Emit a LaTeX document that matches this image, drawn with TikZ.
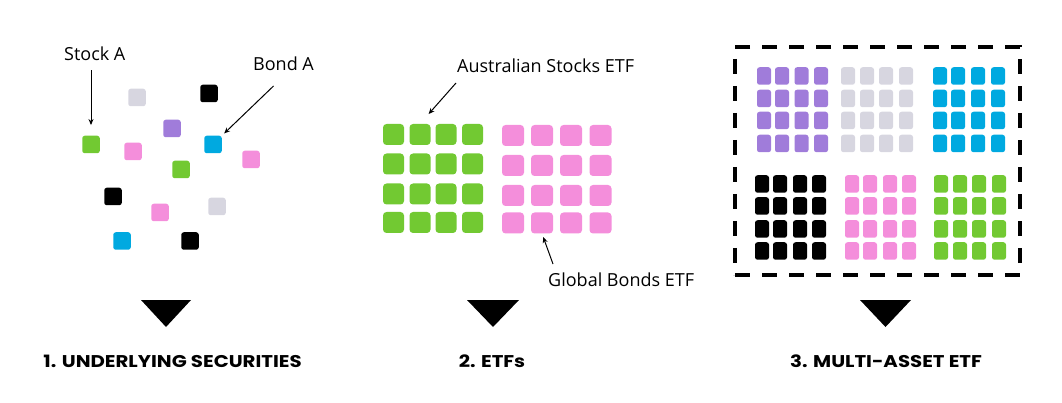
\documentclass[tikz,border=0pt]{standalone}
\usepackage{fontspec}
\setmainfont{Open Sans}
\newfontfamily\labfont{Poppins}[FakeStretch=1.16]
\usetikzlibrary{arrows.meta,calc}
\definecolor{cgreen}{HTML}{72C932}
\definecolor{cpink}{HTML}{F48EDB}
\definecolor{cpurple}{HTML}{A07CDA}
\definecolor{cgray}{HTML}{D7D6E0}
\definecolor{cblue}{HTML}{00A9E0}
\tikzset{
  chip/.style={draw=none, rounded corners=2.5pt, inner sep=0pt, minimum width=17.5pt, minimum height=17.5pt},
  bigchip/.style={draw=none, rounded corners=3.5pt, inner sep=0pt, minimum width=21pt, minimum height=21pt},
  smallchip/.style={draw=none, rounded corners=2.5pt, inner sep=0pt, minimum width=14pt, minimum height=17.5pt},
  lbl/.style={inner sep=0pt, font=\fontsize{18}{21}\selectfont},
  title/.style={inner sep=0pt, font=\labfont\bfseries\fontsize{17}{20}\selectfont},
  arr/.style={line width=1pt, -{Stealth[length=6pt,width=5pt]}},
  tri/.style={fill=black},
  mabox/.style={draw=black, line width=3.3pt, dash pattern=on 15pt off 12pt, inner sep=0pt, minimum width=285pt, minimum height=228pt}
}
\begin{document}
\begin{tikzpicture}[x=1pt,y=-1pt]
\useasboundingbox (0,0) rectangle (1062,403);
% ---------- 1. underlying securities
\node[chip,fill=cgray]   (u1)  at (137,97.5) {};
\node[chip,fill=black]   (u2)  at (209,93.5) {};
\node[chip,fill=cpurple] (u3)  at (172,128.5) {};
\node[chip,fill=cgreen]  (sA)  at (91,144.5) {};
\node[chip,fill=cpink]   (u5)  at (133,151.5) {};
\node[chip,fill=cblue]   (bA)  at (213,144.5) {};
\node[chip,fill=cpink]   (u7)  at (251,159.5) {};
\node[chip,fill=cgreen]  (u8)  at (181,169.5) {};
\node[chip,fill=black]   (u9)  at (113,196.5) {};
\node[chip,fill=cpink]   (u10) at (160,212.5) {};
\node[chip,fill=cgray]   (u11) at (217,206.5) {};
\node[chip,fill=cblue]   (u12) at (122,241) {};
\node[chip,fill=black]   (u13) at (190,241) {};
\node[lbl,anchor=base west] (stockA) at (64,61) {Stock A};
\node[lbl,anchor=base west] (bondA) at (253,71) {Bond A};
\draw[arr,shorten <=9pt,shorten >=10.5pt] (stockA.south -| sA.north) -- (sA.north);
\draw[arr,shorten >=3pt] ($(bondA.base)+(-10,15)$) -- (bA.north east);
\fill[tri] (141,300) -- (191,300) -- (166,327) -- cycle;
\node[title,anchor=base] (t1) at (172.5,367) {1. UNDERLYING SECURITIES};
% ---------- 2. ETFs
\foreach \c/\x in {1/393.5,2/420,3/446,4/472.5}
  \foreach \r/\y in {1/134.5,2/164,3/194,4/222.5}
    \node[bigchip,fill=cgreen] (g\r\c) at (\x,\y) {};
\foreach \c/\x in {1/513,2/542,3/571,4/600.5}
  \foreach \r/\y in {1/135.5,2/165.5,3/195.5,4/223}
    \node[bigchip,minimum width=22pt,fill=cpink] (p\r\c) at (\x,\y) {};
\node[lbl,anchor=base west] (aus) at (457,73) {Australian Stocks ETF};
\node[lbl,anchor=base west] (glob) at (548,287) {Global Bonds ETF};
\draw[arr,shorten >=13pt] ($(aus.base west)+(-1,10)$) -- (g12.north);
\draw[arr,shorten >=3.5pt] ($(glob.base west)+(5,-23)$) -- (p42.south);
\fill[tri] (467,300) -- (519,300) -- (493,327) -- cycle;
\node[title,anchor=base] (t2) at (492,367) {2. ETFs};
% ---------- 3. Multi-asset ETF
\node[mabox] (box) at (877.5,161) {};
\foreach \c/\x in {1/764,2/782,3/801.5,4/821}
  \foreach \r/\y in {1/76,2/98.5,3/120.5,4/143.5}
    \node[smallchip,fill=cpurple] (mp\r\c) at (\x,\y) {};
\foreach \c/\x in {1/848,2/867,3/886,4/906}
  \foreach \r/\y in {1/76,2/98.5,3/120.5,4/143.5}
    \node[smallchip,fill=cgray] (mg\r\c) at (\x,\y) {};
\foreach \c/\x in {1/940,2/958,3/978,4/998}
  \foreach \r/\y in {1/76,2/98.5,3/120.5,4/143.5}
    \node[smallchip,fill=cblue] (mb\r\c) at (\x,\y) {};
\foreach \c/\x in {1/762,2/780,3/800,4/819}
  \foreach \r/\y in {1/184,2/206,3/229,4/251}
    \node[smallchip,fill=black] (mk\r\c) at (\x,\y) {};
\foreach \c/\x in {1/852,2/870,3/890,4/909}
  \foreach \r/\y in {1/184,2/206,3/229,4/251}
    \node[smallchip,fill=cpink] (mq\r\c) at (\x,\y) {};
\foreach \c/\x in {1/941,2/960,3/979,4/999}
  \foreach \r/\y in {1/184,2/206,3/229,4/251}
    \node[smallchip,fill=cgreen] (mn\r\c) at (\x,\y) {};
\fill[tri] (860,300) -- (911,300) -- (885.5,327) -- cycle;
\node[title,anchor=base] (t3) at (886,367) {3. MULTI-ASSET ETF};
\end{tikzpicture}
\end{document}
